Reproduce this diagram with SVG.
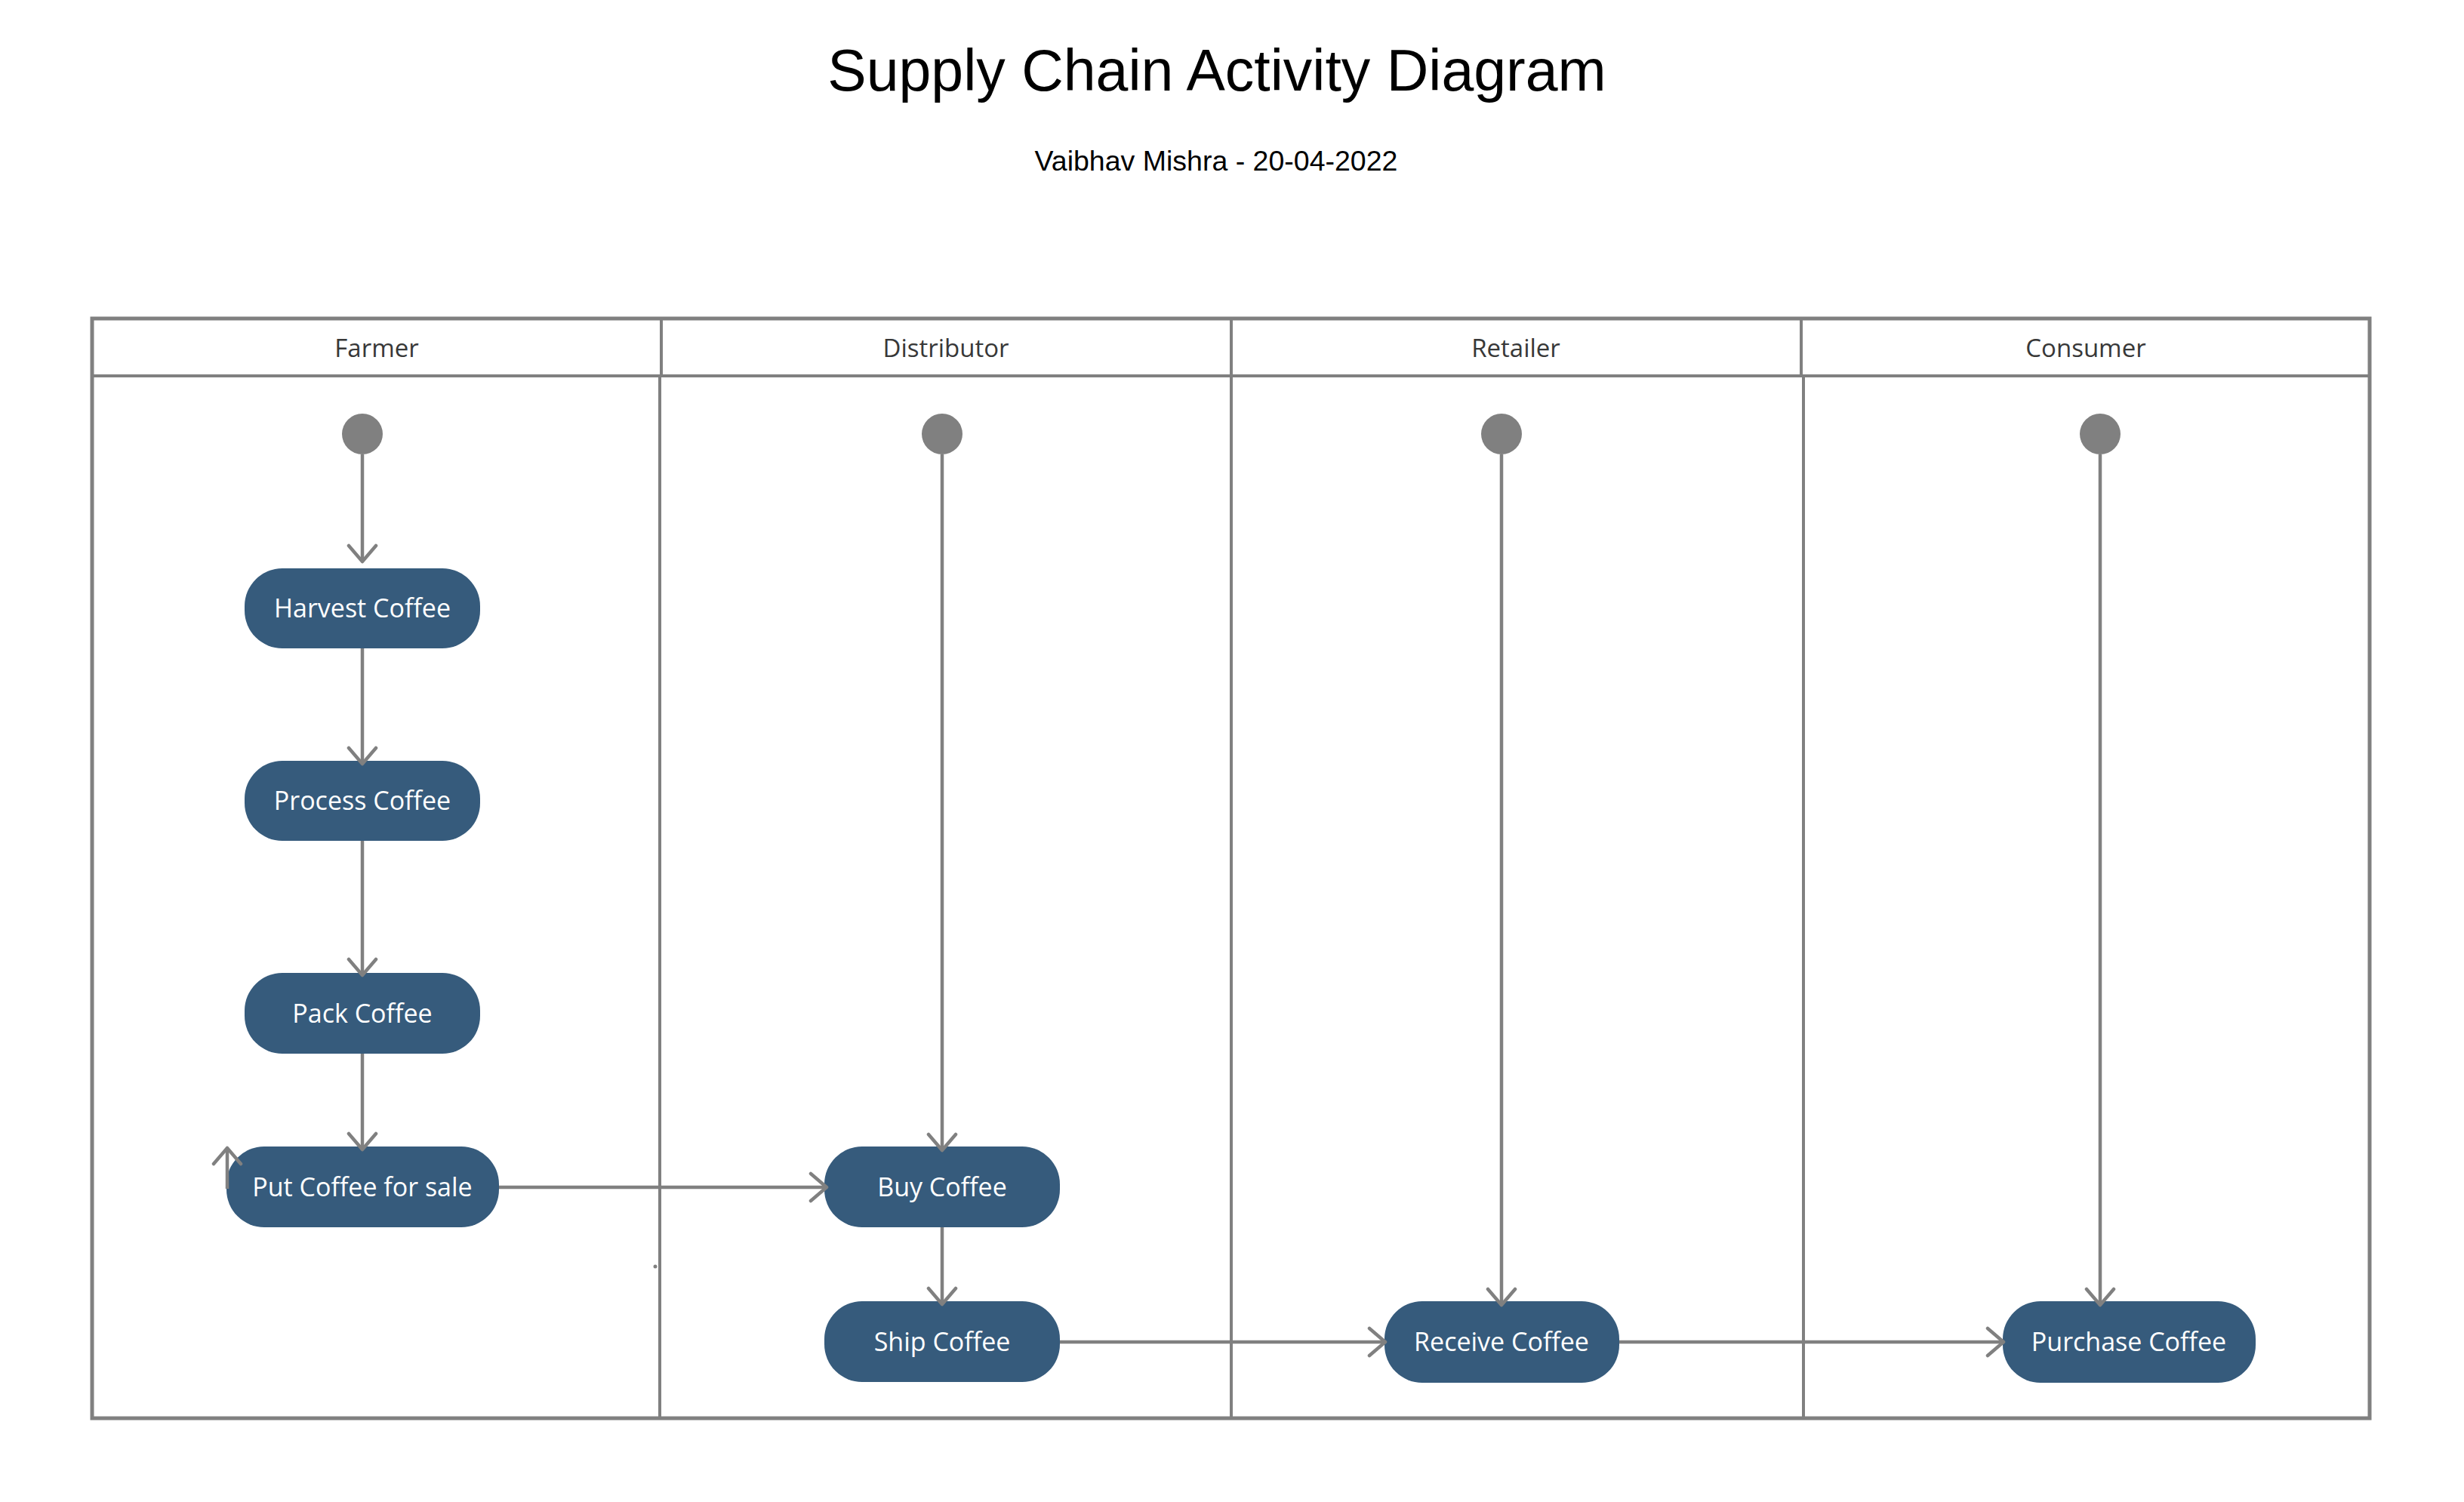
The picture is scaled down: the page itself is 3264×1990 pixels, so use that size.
<svg xmlns="http://www.w3.org/2000/svg" width="3264" height="1990" viewBox="0 0 3264 1990">
<style>
.title{font-family:"Liberation Sans",Arial,sans-serif;fill:#000;text-anchor:middle}
.lane{fill:none;stroke:#808080;stroke-width:5}
.div{stroke:#808080;stroke-width:4;fill:none}
.lanelbl{font-family:"Open Sans","Noto Sans",sans-serif;font-size:33px;fill:#383838;text-anchor:middle}
.act rect{fill:#365b7c}
.act text{font-family:"Open Sans","Noto Sans",sans-serif;font-size:34px;fill:#fff;text-anchor:middle}
.start{fill:#808080}
.conn path{fill:none;stroke:#808080;stroke-width:4.5;marker-end:url(#arr)}
</style>
<defs>
<marker id="arr" markerUnits="userSpaceOnUse" viewBox="-24 -24 28 48" markerWidth="28" markerHeight="48" refX="0" refY="0" orient="auto">
<path d="M-21,-18 L0,0 L-21,18" fill="none" stroke="#808080" stroke-width="4.5" stroke-linecap="round" stroke-linejoin="round"/>
</marker>
</defs>
<rect width="3264" height="1990" fill="#fff"/>
<text class="title" x="1612" y="120" font-size="77">Supply Chain Activity Diagram</text>
<text class="title" x="1611" y="226" font-size="37.5">Vaibhav Mishra - 20-04-2022</text>

<g id="swimlanes">
<rect class="lane" x="122" y="422" width="3017" height="1457"/>
<line class="div" x1="122" y1="498" x2="3139" y2="498"/>
<line class="div" x1="876" y1="422" x2="876" y2="498"/>
<line class="div" x1="874" y1="498" x2="874" y2="1879"/>
<line class="div" x1="1631" y1="422" x2="1631" y2="1879"/>
<line class="div" x1="2386" y1="422" x2="2386" y2="498"/>
<line class="div" x1="2389" y1="498" x2="2389" y2="1879"/>
<text class="lanelbl" x="499" y="473">Farmer</text>
<text class="lanelbl" x="1253" y="473">Distributor</text>
<text class="lanelbl" x="2008" y="473">Retailer</text>
<text class="lanelbl" x="2763" y="473">Consumer</text>
<circle cx="868" cy="1678" r="2.5" fill="#808080"/>
</g>

<g id="start-farmer"><circle class="start" cx="480" cy="575" r="27"/></g>
<g id="start-distributor"><circle class="start" cx="1248" cy="575" r="27"/></g>
<g id="start-retailer"><circle class="start" cx="1989" cy="575" r="27"/></g>
<g id="start-consumer"><circle class="start" cx="2782" cy="575" r="27"/></g>

<g id="harvest" class="act"><rect x="324" y="753" width="312" height="106" rx="50"/><text x="480" y="818">Harvest Coffee</text></g>
<g id="process" class="act"><rect x="324" y="1008" width="312" height="106" rx="50"/><text x="480" y="1073">Process Coffee</text></g>
<g id="pack" class="act"><rect x="324" y="1289" width="312" height="107" rx="50"/><text x="480" y="1355">Pack Coffee</text></g>
<g id="putsale" class="act"><rect x="300" y="1519" width="361" height="107" rx="50"/><text x="480" y="1585">Put Coffee for sale</text></g>
<g id="buy" class="act"><rect x="1092" y="1519" width="312" height="107" rx="50"/><text x="1248" y="1585">Buy Coffee</text></g>
<g id="ship" class="act"><rect x="1092" y="1724" width="312" height="107" rx="50"/><text x="1248" y="1790">Ship Coffee</text></g>
<g id="receive" class="act"><rect x="1834" y="1724" width="311" height="108" rx="50"/><text x="1989" y="1790">Receive Coffee</text></g>
<g id="purchase" class="act"><rect x="2653" y="1724" width="335" height="108" rx="50"/><text x="2820" y="1790">Purchase Coffee</text></g>

<g id="connectors" class="conn">
<path d="M480,602 L480,744"/>
<path d="M480,859 L480,1012"/>
<path d="M480,1114 L480,1292"/>
<path d="M480,1396 L480,1523"/>
<path d="M661,1573 L1095,1573"/>
<path d="M1248,602 L1248,1524"/>
<path d="M1248,1626 L1248,1728"/>
<path d="M1404,1778 L1835,1778"/>
<path d="M1989,602 L1989,1729"/>
<path d="M2145,1778 L2654,1778"/>
<path d="M2782,602 L2782,1729"/>
<path d="M301,1575 L301,1521"/>
</g>
</svg>
